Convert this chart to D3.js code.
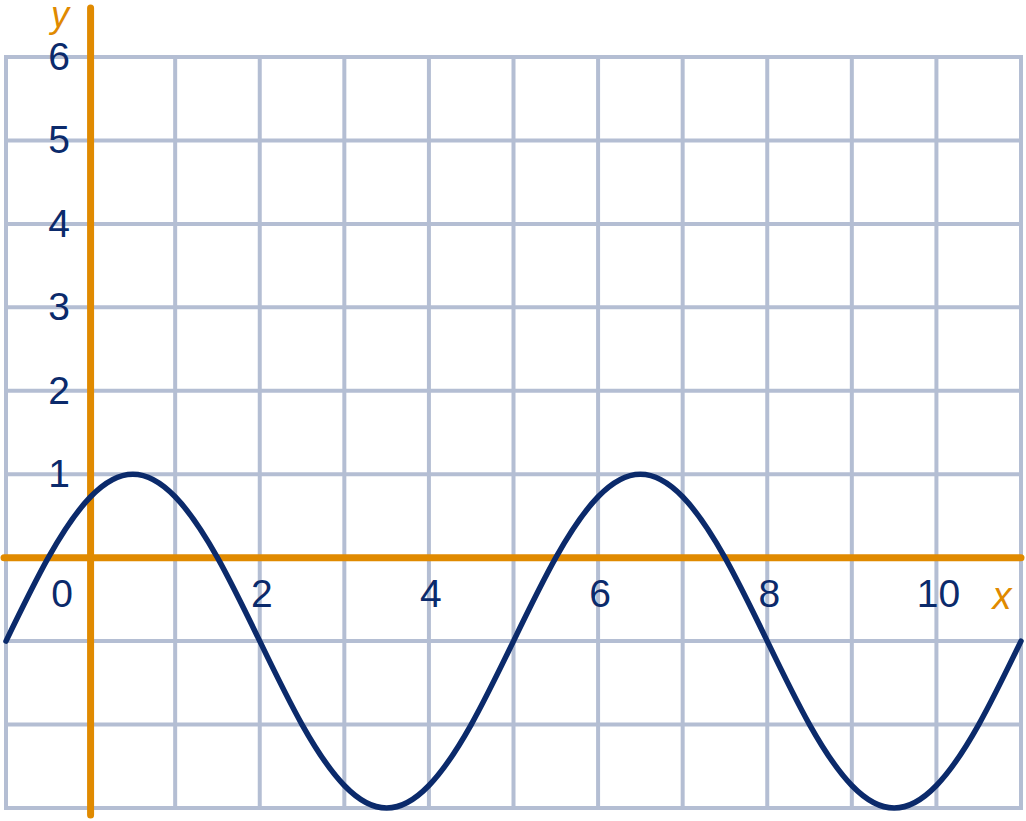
<!DOCTYPE html>
<html>
<head>
<meta charset="utf-8">
<script src="https://cdn.jsdelivr.net/npm/d3@7"></script>
<style>
  html, body { margin: 0; padding: 0; background: #fff; }
  svg { display: block; }
  text { font-family: "Liberation Sans", Arial, sans-serif; }
</style>
</head>
<body>
<svg id="chart" width="1026" height="821"></svg>
<script>
// Data
const curveX = [-1, -0.5, 0, 0.5, 1, 1.5, 2, 2.5, 3, 3.5, 4, 4.5, 5, 5.5, 6, 6.5, 7, 7.5, 8, 8.5, 9, 9.5, 10, 10.5, 11];
const curveY = [-1, 0, 0.73, 1, 0.73, 0, -1, -2, -2.73, -3, -2.73, -2, -1, 0, 0.73, 1, 0.73, 0, -1, -2, -2.73, -3, -2.73, -2, -1];
const gridX = [-1, 0, 1, 2, 3, 4, 5, 6, 7, 8, 9, 10, 11];
const gridY = [-3, -2, -1, 0, 1, 2, 3, 4, 5, 6];
const xTickLabels = ["2", "4", "6", "8", "10"];
const xTickValues = [2, 4, 6, 8, 10];
const yTickLabels = ["1", "2", "3", "4", "5", "6"];
const yTickValues = [1, 2, 3, 4, 5, 6];

const svg = d3.select("#chart");
const x = d3.scaleLinear().domain([-1, 11]).range([6, 1021]);
const y = d3.scaleLinear().domain([-3, 6]).range([808, 57]);

const navy = "#0b2a6b";
const orange = "#e08a00";
const gridColor = "#b4bed3";

// grid
svg.append("g").selectAll("line").data(gridX).join("line")
  .attr("x1", d => x(d)).attr("x2", d => x(d))
  .attr("y1", y(6)).attr("y2", y(-3))
  .attr("stroke", gridColor).attr("stroke-width", 4).attr("stroke-linecap", "square");
svg.append("g").selectAll("line").data(gridY).join("line")
  .attr("x1", x(-1)).attr("x2", x(11))
  .attr("y1", d => y(d)).attr("y2", d => y(d))
  .attr("stroke", gridColor).attr("stroke-width", 4).attr("stroke-linecap", "square");

// axes (orange)
svg.append("line")
  .attr("x1", x(0)).attr("x2", x(0)).attr("y1", 8).attr("y2", 815)
  .attr("stroke", orange).attr("stroke-width", 7).attr("stroke-linecap", "round");
svg.append("line")
  .attr("x1", 4).attr("x2", 1021).attr("y1", y(0)).attr("y2", y(0))
  .attr("stroke", orange).attr("stroke-width", 7).attr("stroke-linecap", "round");

// curve
const pts = curveX.map((d, i) => [d, curveY[i]]);
const line = d3.line().x(d => x(d[0])).y(d => y(d[1])).curve(d3.curveNatural);
svg.append("path").datum(pts)
  .attr("d", line)
  .attr("fill", "none").attr("stroke", navy).attr("stroke-width", 5.5)
  .attr("stroke-linecap", "round");

// tick labels
const fs = 39;
svg.append("g").selectAll("text").data(yTickValues).join("text")
  .attr("x", 59).attr("y", d => y(d) - 1)
  .attr("dy", "0.36em")
  .attr("text-anchor", "middle")
  .attr("font-size", fs).attr("fill", navy)
  .text((d, i) => yTickLabels[i]);
svg.append("g").selectAll("text").data(xTickValues).join("text")
  .attr("x", d => x(d) + 2).attr("y", 593)
  .attr("dy", "0.36em")
  .attr("text-anchor", "middle")
  .attr("font-size", fs).attr("fill", navy)
  .text((d, i) => xTickLabels[i]);
svg.append("text")
  .attr("x", 62).attr("y", 593).attr("dy", "0.36em")
  .attr("text-anchor", "middle").attr("font-size", fs).attr("fill", navy)
  .text("0");

// axis names
svg.append("text")
  .attr("x", 60).attr("y", 27)
  .attr("text-anchor", "middle")
  .attr("font-size", 36).attr("font-style", "italic").attr("fill", orange)
  .text("y");
svg.append("text")
  .attr("x", 1002).attr("y", 609)
  .attr("text-anchor", "middle")
  .attr("font-size", 38).attr("font-style", "italic").attr("fill", orange)
  .text("x");
</script>
</body>
</html>
